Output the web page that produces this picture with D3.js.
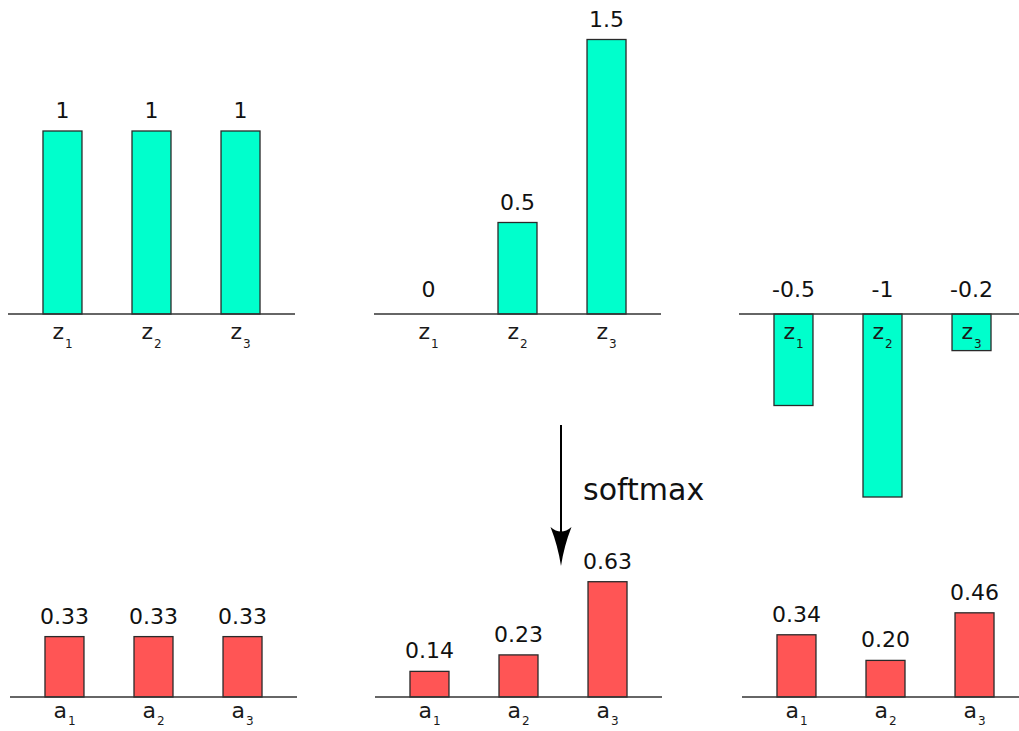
<!DOCTYPE html>
<html>
<head>
<meta charset="utf-8">
<script src="https://cdn.jsdelivr.net/npm/d3@7"></script>
<style>
  html, body { margin: 0; padding: 0; background: #fff; }
  svg { display: block; font-family: "DejaVu Sans", sans-serif; }
</style>
</head>
<body>
<svg id="chart" width="1019" height="731"></svg>
<script>
// ---- data ----
const zCategories = ["z1", "z2", "z3"];
const aCategories = ["a1", "a2", "a3"];
const zValuesA = [1, 1, 1];
const zValuesB = [0, 0.5, 1.5];
const zValuesC = [-0.5, -1, -0.2];
const aValuesA = [0.33, 0.33, 0.33];
const aValuesB = [0.14, 0.23, 0.63];
const aValuesC = [0.34, 0.20, 0.46];
const arrowLabel = "softmax";

// ---- layout / style ----
const W = 1019, H = 731;
const unit = 183;          // pixels per 1.0
const axisLen = 287;
const topBase = 314, botBase = 697;
const topX = [8, 374, 739], botX = [10, 375, 742];
const cyan = "#00ffcc", red = "#ff5555";

const svg = d3.select("#chart");

function panel(x0, base, cats, values, fill, fmt, catOffset, subShift) {
  const x = d3.scaleBand().domain(cats).range([x0, x0 + axisLen])
    .paddingInner(0.562).paddingOuter(0.393);
  const y = d3.scaleLinear().domain([0, 1]).range([base, base - unit]);
  const g = svg.append("g");
  const data = cats.map((c, i) => ({ c, v: values[i] }));

  g.selectAll("rect").data(data.filter(d => d.v !== 0)).join("rect")
    .attr("x", d => x(d.c))
    .attr("y", d => Math.min(y(d.v), y(0)))
    .attr("width", x.bandwidth())
    .attr("height", d => Math.abs(y(d.v) - y(0)))
    .attr("fill", fill)
    .attr("stroke", "#2a2a2a")
    .attr("stroke-width", 1.3);

  // axis line
  g.append("line")
    .attr("x1", x.range()[0]).attr("x2", x.range()[1])
    .attr("y1", y(0)).attr("y2", y(0))
    .attr("stroke", "#333").attr("stroke-width", 1.5);

  // value labels
  g.selectAll("text.val").data(data).join("text")
    .attr("class", "val")
    .attr("x", d => x(d.c) + x.bandwidth() / 2)
    .attr("y", d => d.v > 0 ? y(d.v) - 13 : y(0) - 17)
    .attr("text-anchor", "middle")
    .attr("font-size", 22)
    .attr("fill", "#111")
    .text(d => fmt(d.v));

  // category labels with subscripts
  const cl = g.selectAll("text.cat").data(data).join("text")
    .attr("class", "cat")
    .attr("x", d => x(d.c) + x.bandwidth() / 2)
    .attr("y", y(0) + catOffset)
    .attr("text-anchor", "middle")
    .attr("fill", "#1a1a1a");
  cl.append("tspan").attr("font-size", 22).text(d => d.c[0]);
  cl.append("tspan").attr("font-size", 12).attr("dy", subShift).attr("dx", 1).text(d => d.c.slice(1));
}

const fmtTop = v => String(v);
const fmtBot = d3.format(".2f");

panel(topX[0], topBase, zCategories, zValuesA, cyan, fmtTop, 25, 9);
panel(topX[1], topBase, zCategories, zValuesB, cyan, fmtTop, 25, 9);
panel(topX[2], topBase, zCategories, zValuesC, cyan, fmtTop, 25, 9);
panel(botX[0], botBase, aCategories, aValuesA, red, fmtBot, 21, 7);
panel(botX[1], botBase, aCategories, aValuesB, red, fmtBot, 21, 7);
panel(botX[2], botBase, aCategories, aValuesC, red, fmtBot, 21, 7);

// softmax arrow
const ax = 561;
svg.append("line")
  .attr("x1", ax).attr("x2", ax).attr("y1", 425).attr("y2", 540)
  .attr("stroke", "#000").attr("stroke-width", 2);
const tipY = 566, backY = 527;
svg.append("path")
  .attr("d", `M${ax},${tipY} Q${ax - 3},${tipY - 20} ${ax - 10.5},${backY} Q${ax},${backY + 9} ${ax + 10.5},${backY} Q${ax + 3},${tipY - 20} ${ax},${tipY} Z`)
  .attr("fill", "#000");
svg.append("text")
  .attr("x", 583).attr("y", 500)
  .attr("font-size", 30)
  .attr("fill", "#111")
  .text(arrowLabel);
</script>
</body>
</html>
